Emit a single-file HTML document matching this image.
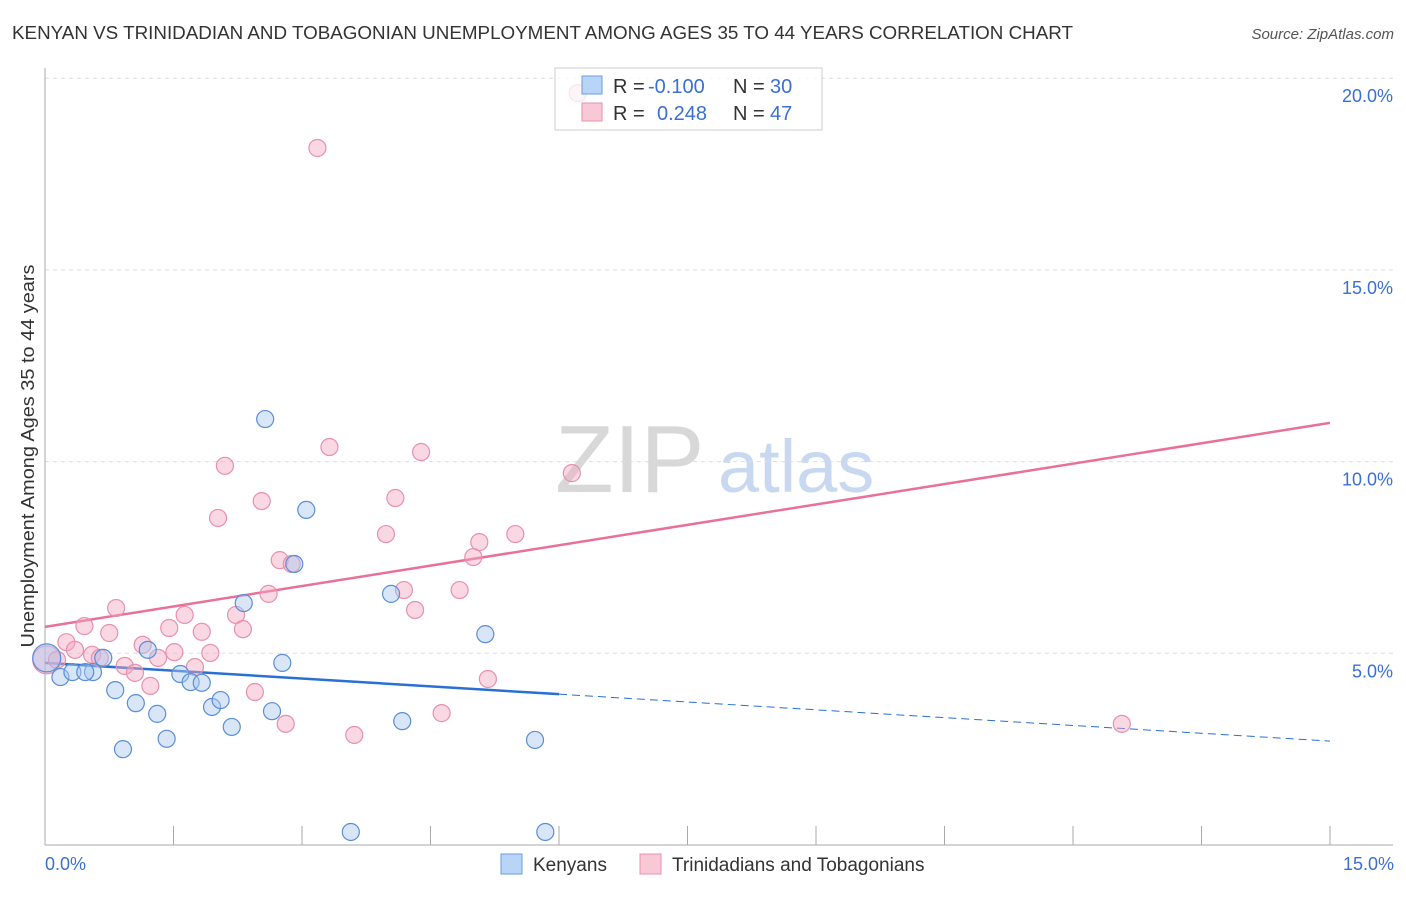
<!DOCTYPE html>
<html><head><meta charset="utf-8"><style>
body{margin:0;background:#fff;font-family:"Liberation Sans",sans-serif;}
svg text{font-family:"Liberation Sans",sans-serif;}
</style></head><body>
<svg id="chart" width="1406" height="892" viewBox="0 0 1406 892" xmlns="http://www.w3.org/2000/svg">
<text x="12" y="39" font-size="18" fill="#333" textLength="1061" lengthAdjust="spacingAndGlyphs">KENYAN VS TRINIDADIAN AND TOBAGONIAN UNEMPLOYMENT AMONG AGES 35 TO 44 YEARS CORRELATION CHART</text>
<text x="1394" y="39" font-size="15" fill="#555" text-anchor="end" font-style="italic">Source: ZipAtlas.com</text>
<g>
<text x="555" y="492" font-size="96" fill="#d8d8d8" font-family="Liberation Serif, serif">ZIP</text>
<text x="718" y="492" font-size="74" fill="#c8d8f0">atlas</text>
</g>
<g id="grid"></g>
<g id="axes"></g>
<g id="trends"></g>
<g id="points"></g>
<text transform="translate(34,456) rotate(-90)" font-size="18" fill="#333" text-anchor="middle" textLength="383" lengthAdjust="spacingAndGlyphs">Unemployment Among Ages 35 to 44 years</text>
<text x="45" y="870" font-size="18" fill="#3b6fd4">0.0%</text>
<text x="1394" y="870" font-size="18" fill="#3b6fd4" text-anchor="end">15.0%</text>
<g>
<rect x="555" y="68" width="267" height="62" fill="#fff" fill-opacity="0.75" stroke="#ccc"/>
<rect x="582" y="76" width="20" height="18" fill="#b8d4f6" stroke="#6a9ee0"/>
<rect x="582" y="103" width="20" height="18" fill="#f9c8d6" stroke="#e890ac"/>
<text x="613" y="93" font-size="20" fill="#333">R =</text>
<text x="648" y="93" font-size="20" fill="#3b6fd4">-0.100</text>
<text x="733" y="93" font-size="20" fill="#333">N =</text>
<text x="770" y="93" font-size="20" fill="#3b6fd4">30</text>
<text x="613" y="120" font-size="20" fill="#333">R =</text>
<text x="657" y="120" font-size="20" fill="#3b6fd4">0.248</text>
<text x="733" y="120" font-size="20" fill="#333">N =</text>
<text x="770" y="120" font-size="20" fill="#3b6fd4">47</text>
</g>
<g>
<rect x="501" y="854" width="21" height="20" fill="#b8d4f6" stroke="#6a9ee0"/>
<text x="533" y="871" font-size="19" fill="#333">Kenyans</text>
<rect x="640" y="854" width="21" height="20" fill="#f9c8d6" stroke="#e890ac"/>
<text x="672" y="871" font-size="19" fill="#333">Trinidadians and Tobagonians</text>
</g>
</svg>
<script>
const yTicks=[5,10,15,20];
const yTickLabels=["5.0%","10.0%","15.0%","20.0%"];
const xTicks=[0,1.5,3,4.5,6,7.5,9,10.5,12,13.5,15];
const blueX=[0.02,0.18,0.32,0.56,0.68,0.82,0.91,1.06,1.20,1.31,1.42,1.58,1.70,1.83,1.95,2.05,2.18,2.32,2.57,2.65,2.77,2.91,3.05,3.57,4.04,4.17,5.14,5.72,5.84,0.47];
const blueY=[4.88,4.38,4.51,4.51,4.88,4.04,2.50,3.70,5.09,3.42,2.77,4.46,4.25,4.23,3.60,3.78,3.08,6.31,11.11,3.49,4.75,7.33,8.74,0.34,6.55,3.23,5.50,2.74,0.34,4.51];
const pinkX=[0.02,0.14,0.25,0.35,0.46,0.55,0.64,0.75,0.83,0.93,1.05,1.14,1.23,1.32,1.45,1.51,1.63,1.75,1.83,1.93,2.02,2.10,2.23,2.31,2.45,2.53,2.61,2.74,2.81,2.88,3.18,3.32,3.61,3.98,4.09,4.19,4.32,4.39,4.63,4.84,5.00,5.07,5.17,5.49,6.15,6.22,12.57];
const pinkY=[4.83,4.83,5.29,5.09,5.71,4.96,4.88,5.53,6.18,4.67,4.49,5.22,4.15,4.88,5.66,5.03,6.00,4.64,5.56,5.01,8.53,9.89,6.00,5.63,3.99,8.97,6.55,7.43,3.16,7.33,18.18,10.38,2.87,8.11,9.05,6.65,6.13,10.25,3.44,6.65,7.51,7.90,4.33,8.11,9.70,19.61,3.16];
const pinkTrend=[5.69,11.01];
const blueTrend=[4.75,2.71];
const blueSolidEnd=6.0;
const X=v=>45+v/15*1285;
const Y=v=>845-v/5*191.7;
const NS="http://www.w3.org/2000/svg";
function mk(p,t,a){const e=document.createElementNS(NS,t);for(const k in a)e.setAttribute(k,a[k]);p.appendChild(e);return e;}
const grid=document.getElementById('grid'),axes=document.getElementById('axes');
yTicks.forEach((t,i)=>{
 const l=mk(grid,'line',{x1:45,x2:1393,y1:Y(t),y2:Y(t),stroke:'#ddd','stroke-dasharray':'4,4'});
 
 
 const tx=mk(grid,'text',{x:1393,y:Y(t)+24,'font-size':18,fill:'#3b6fd4','text-anchor':'end'});
 tx.textContent=yTickLabels[i];
 
 
});
mk(axes,'line',{x1:45,x2:45,y1:68,y2:845,stroke:'#aaa'});
mk(axes,'line',{x1:45,x2:1393,y1:845,y2:845,stroke:'#aaa'});
xTicks.forEach(t=>{
 const l=mk(axes,'line',{x1:X(t),x2:X(t),y1:826,y2:845,stroke:'#aaa'});
 
 
});
const tr=document.getElementById('trends');
const ty=(a,x)=>a[0]+(a[1]-a[0])*x/15;
let pl=mk(tr,'line',{x1:X(0),y1:Y(pinkTrend[0]),x2:X(15),y2:Y(pinkTrend[1]),stroke:'#e8709a','stroke-width':2.5});


let bl=mk(tr,'line',{x1:X(0),y1:Y(blueTrend[0]),x2:X(blueSolidEnd),y2:Y(ty(blueTrend,blueSolidEnd)),stroke:'#2a6fd4','stroke-width':2.5});


let bd=mk(tr,'line',{x1:X(blueSolidEnd),y1:Y(ty(blueTrend,blueSolidEnd)),x2:X(15),y2:Y(blueTrend[1]),stroke:'#2a6fd4','stroke-width':1,'stroke-dasharray':'8,5'});


const pts=document.getElementById('points');
function draw(xs,ys,fill,stroke,name){
 xs.forEach((x,i)=>{
  const c=mk(pts,'circle',{cx:X(x),cy:Y(ys[i]),r:i===0?14:8.5,fill:fill,'fill-opacity':0.45,stroke:stroke,'stroke-width':1.2});
  
  
 });
}
draw(pinkX,pinkY,'#f4a8c0','#e890ac','trinidadian-point');
draw(blueX,blueY,'#a8c8f0','#5a8ed8','kenyan-point');
</script>
</body></html>
